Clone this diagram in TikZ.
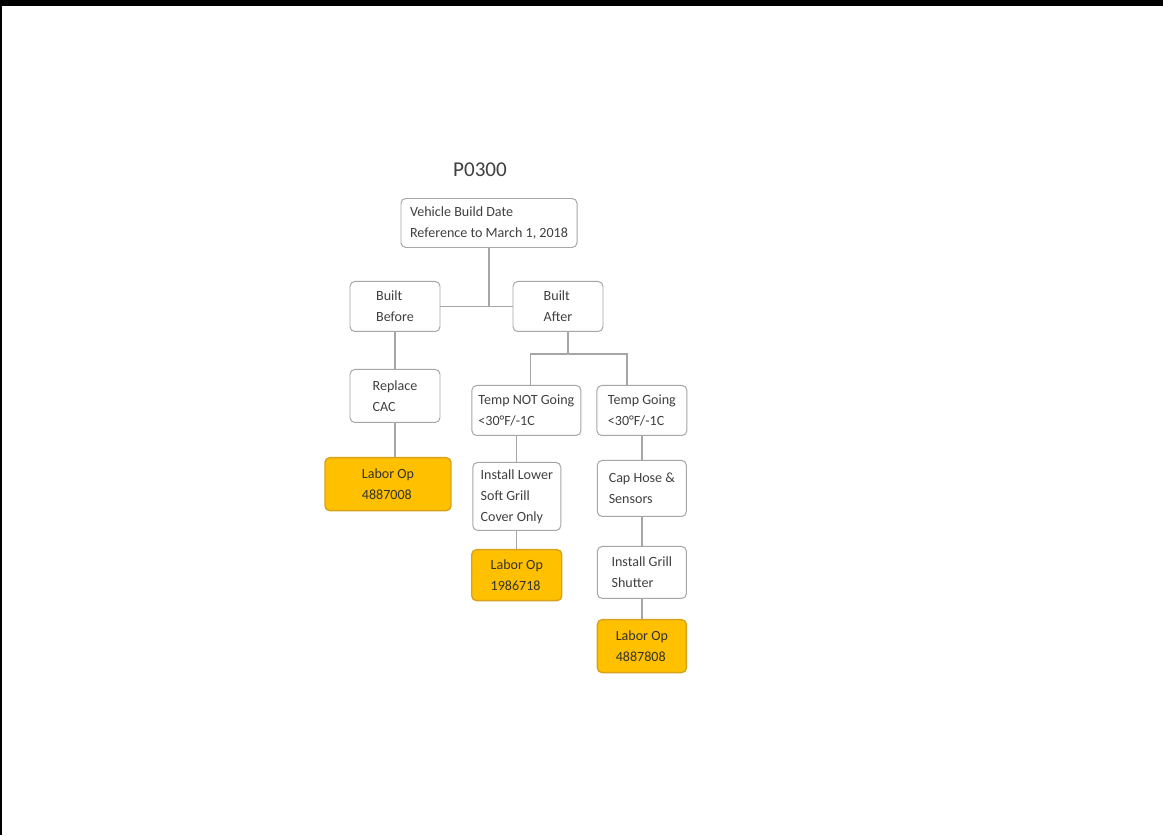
\documentclass[tikz,border=0pt]{standalone}
\usepackage{fontspec}
\setmainfont{Carlito}
\usepackage{xcolor}
\usetikzlibrary{positioning, calc}

\definecolor{linegray}{HTML}{A6A6A6}
\definecolor{textgray}{HTML}{404040}
\definecolor{laborgold}{HTML}{FFC000}
\definecolor{laboredge}{HTML}{D9A21B}

\begin{document}
\begin{tikzpicture}[
		  font=\fontsize{10}{15}\selectfont,
		  text=textgray,
		  node distance=8mm,
		  box/.style={
		    draw=linegray,
		    line width=0.7pt,
		    rounded corners=1.2mm,
		    align=left,
		    inner xsep=1mm,
		    minimum width=22.5mm,
		    minimum height=12.5mm,
		    fill=white
		  },
		  laborbox/.style={box,draw=laboredge,line width=1pt,fill=laborgold,text=black!80},
		  link/.style={draw=linegray,line width=1pt}
		]

		% --- page ---
		\fill[white] (0,0) rectangle (290.75mm,-208.75mm);
		\useasboundingbox (0,0) rectangle (290.75mm,-208.75mm);
		\fill[black] (0,0) rectangle (290.75mm,-1.5mm);
		\fill[black] (0,0) rectangle (0.6mm,-208.75mm);

		% --- top ---
		\node[font=\fontsize{15}{18}\selectfont] (code) at (120mm,-42.5mm) {P0300};
		\node[box, minimum width=44mm, minimum height=12.25mm] (build) at (122.25mm,-55.75mm)
		  {Vehicle Build Date\\Reference to March 1, 2018};
		\node[box, below=8.25mm of build, xshift=-23.5mm] (before) {Built\\Before};
		\node[box, right=18mm of before] (after) {Built\\After};

		% --- built before ---
		\node[box, below=9.25mm of before, minimum height=13.25mm] (cac) {Replace\\CAC};
		\node[laborbox, below=8.5mm of cac, xshift=-1.75mm, minimum width=31.5mm, minimum height=13.25mm] (labor1) {Labor Op\\4887008};

		% --- built after ---
		\node[box, below=13.25mm of after, xshift=-7.9mm, minimum width=27.25mm] (notgoing) {Temp NOT Going\\<30°F/-1C};
		\node[box, right=3.75mm of notgoing] (going) {Temp Going\\<30°F/-1C};

		\node[box, below=6.5mm of notgoing, xshift=-2.4mm, minimum width=22mm, minimum height=17mm] (lower) {Install Lower\\Soft Grill\\Cover Only};
		\node[laborbox, below=4.5mm of lower, minimum height=12.75mm] (labor2) {Labor Op\\1986718};

		\node[box, below=6mm of going, minimum width=22.25mm, minimum height=14mm] (caphose) {Cap Hose \&\\Sensors};
		\node[box, below=7.25mm of caphose, minimum width=22.25mm, minimum height=13mm] (grill) {Install Grill\\Shutter};
		\node[laborbox, below=5mm of grill, minimum width=22.25mm, minimum height=13.25mm] (labor3) {Labor Op\\4887808};

		% --- links ---
		\coordinate (fork) at ($([xshift=2.5mm]after.south)+(0,-5.5mm)$);

		\draw[link] (build) -- (build |- before);
		\draw[link] (before) -- (after);
		\draw[link] (before) -- (cac);
		\draw[link] (cac.south) -- (cac.south |- labor1.north);

		\draw[link] ([xshift=2.5mm]after.south) -- (fork);
		\draw[link] ([xshift=1mm]notgoing.north) |- (fork) -| ([xshift=-3.75mm]going.north);

		\draw[link] (lower.north |- notgoing.south) -- (lower);
		\draw[link] (lower) -- (labor2);
		\draw[link] (going) -- (caphose);
		\draw[link] (caphose) -- (grill);
		\draw[link] (grill) -- (labor3);

		\end{tikzpicture}
\end{document}
